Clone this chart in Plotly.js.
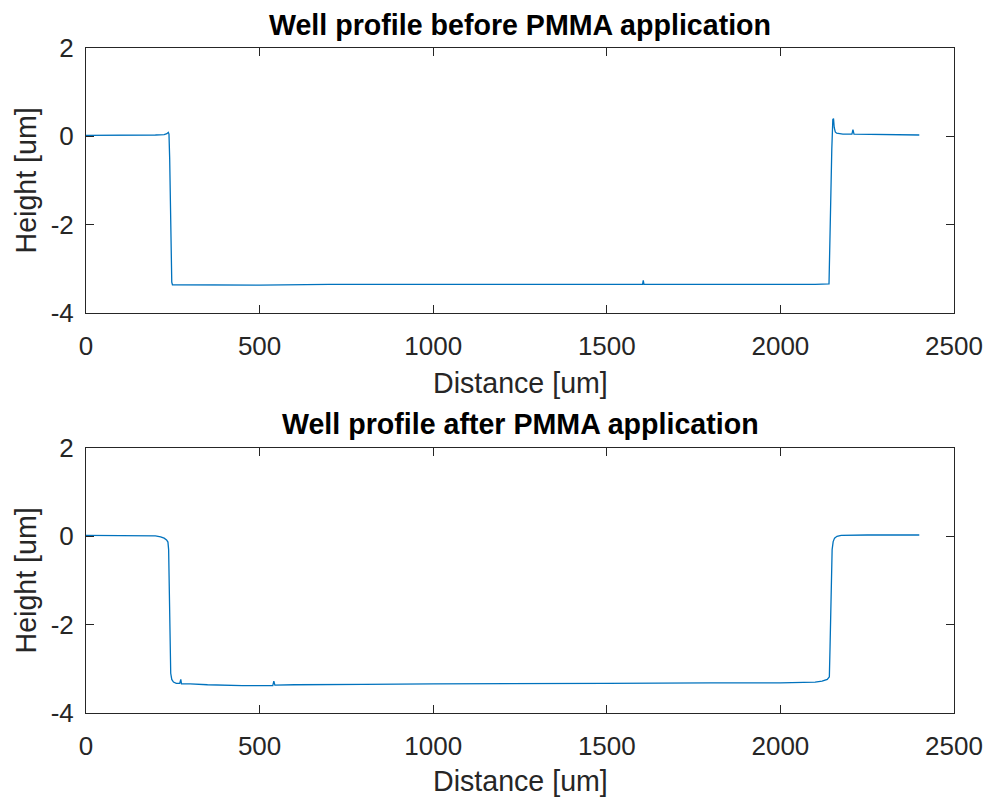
<!DOCTYPE html>
<html>
<head>
<meta charset="utf-8">
<script src="https://cdn.plot.ly/plotly-3.0.1.min.js"></script>
<style>html,body{margin:0;padding:0;background:#fff;}#chart{width:987px;height:799px;}</style>
</head>
<body>
<div id="chart"></div>
<script>
// Well profile before PMMA application
const beforeX = [0, 100, 200, 225, 233, 237, 239, 241, 243, 245, 247, 249, 300, 500, 700, 1000, 1300, 1500, 1600, 1603, 1605, 1607, 1800, 2000, 2100, 2140, 2142, 2145, 2148, 2151, 2153, 2155, 2158, 2162, 2180, 2206, 2209, 2212, 2300, 2400];
const beforeY = [0.02, 0.02, 0.03, 0.04, 0.06, 0.09, 0.05, -0.5, -1.5, -2.6, -3.3, -3.36, -3.36, -3.37, -3.35, -3.35, -3.35, -3.34, -3.35, -3.35, -3.26, -3.35, -3.35, -3.36, -3.35, -3.34, -2.5, -1.3, -0.3, 0.38, 0.4, 0.2, 0.1, 0.07, 0.05, 0.05, 0.15, 0.05, 0.04, 0.03];

// Well profile after PMMA application
const afterX = [0, 100, 200, 215, 225, 232, 236, 238, 240, 242, 244, 247, 252, 260, 270, 273, 275, 300, 350, 450, 538, 541, 544, 600, 700, 800, 1000, 1200, 1500, 1800, 2000, 2100, 2120, 2135, 2141, 2143, 2146, 2149, 2152, 2156, 2163, 2175, 2250, 2400];
const afterY = [0.02, 0.02, 0.01, -0.01, -0.04, -0.08, -0.13, -0.3, -1.5, -2.8, -3.1, -3.24, -3.3, -3.33, -3.33, -3.24, -3.34, -3.34, -3.36, -3.38, -3.38, -3.28, -3.37, -3.36, -3.35, -3.35, -3.34, -3.33, -3.33, -3.32, -3.32, -3.30, -3.28, -3.24, -3.18, -2.5, -1.2, -0.3, -0.12, -0.04, 0.0, 0.02, 0.03, 0.03];

const xTicks = [0, 500, 1000, 1500, 2000, 2500];
const yTicks = [-4, -2, 0, 2];

const titles = ['Well profile before PMMA application', 'Well profile after PMMA application'];
const xLabel = 'Distance [um]';
const yLabel = 'Height [um]';

const lineColor = '#0072BD';
const axColor = '#262626';
const fontFam = '"Liberation Sans", Arial, Helvetica, sans-serif';

const traces = [
  {x: beforeX, y: beforeY, type: 'scatter', mode: 'lines', line: {color: lineColor, width: 1.3}, xaxis: 'x', yaxis: 'y', hoverinfo: 'skip'},
  {x: afterX, y: afterY, type: 'scatter', mode: 'lines', line: {color: lineColor, width: 1.3}, xaxis: 'x2', yaxis: 'y2', hoverinfo: 'skip'}
];

function xax(anchor) {
  return {
    range: [0, 2500], tickvals: xTicks, ticktext: xTicks.map(String),
    showgrid: false, zeroline: false, showline: true, linecolor: axColor, linewidth: 1,
    mirror: 'allticks', ticks: 'inside', ticklen: 8, tickcolor: axColor, tickwidth: 1,
    ticklabelstandoff: 10,
    tickfont: {family: fontFam, size: 26, color: axColor}, anchor: anchor, domain: [0, 1]
  };
}
function yax(anchor, dom) {
  return {
    range: [-4, 2], tickvals: yTicks, ticktext: yTicks.map(String),
    showgrid: false, zeroline: false, showline: true, linecolor: axColor, linewidth: 1,
    mirror: 'allticks', ticks: 'inside', ticklen: 8, tickcolor: axColor, tickwidth: 1,
    ticklabelstandoff: 6,
    tickfont: {family: fontFam, size: 26, color: axColor}, anchor: anchor, domain: dom
  };
}

const W = 868, H = 665;
function px2x(px) { return (px - 86) / W; }
function py2y(py) { return (713 - py) / H; }

const annotations = [
  {text: '<b>' + titles[0] + '</b>', x: 0.5, y: py2y(25), xref: 'paper', yref: 'paper', showarrow: false, xanchor: 'center', yanchor: 'middle', font: {family: fontFam, size: 28.6, color: '#000'}},
  {text: '<b>' + titles[1] + '</b>', x: 0.5, y: py2y(424), xref: 'paper', yref: 'paper', showarrow: false, xanchor: 'center', yanchor: 'middle', font: {family: fontFam, size: 28.6, color: '#000'}},
  {text: xLabel, x: 0.5, y: py2y(383), xref: 'paper', yref: 'paper', showarrow: false, xanchor: 'center', yanchor: 'middle', font: {family: fontFam, size: 28.6, color: axColor}},
  {text: xLabel, x: 0.5, y: py2y(781), xref: 'paper', yref: 'paper', showarrow: false, xanchor: 'center', yanchor: 'middle', font: {family: fontFam, size: 28.6, color: axColor}},
  {text: yLabel, x: px2x(25), y: py2y(180.5), xref: 'paper', yref: 'paper', showarrow: false, xanchor: 'center', yanchor: 'middle', textangle: -90, font: {family: fontFam, size: 28.6, color: axColor}},
  {text: yLabel, x: px2x(25), y: py2y(580.5), xref: 'paper', yref: 'paper', showarrow: false, xanchor: 'center', yanchor: 'middle', textangle: -90, font: {family: fontFam, size: 28.6, color: axColor}}
];

const layout = {
  width: 987, height: 799,
  margin: {l: 86, r: 33, t: 48, b: 86, pad: 0},
  paper_bgcolor: '#fff', plot_bgcolor: '#fff',
  showlegend: false,
  xaxis: xax('y'),
  yaxis: yax('x', [(713 - 313) / H, 1]),
  xaxis2: xax('y2'),
  yaxis2: yax('x2', [0, (713 - 448) / H]),
  annotations: annotations,
  font: {family: fontFam}
};

Plotly.newPlot('chart', traces, layout, {displayModeBar: false, staticPlot: true});
</script>
</body>
</html>
